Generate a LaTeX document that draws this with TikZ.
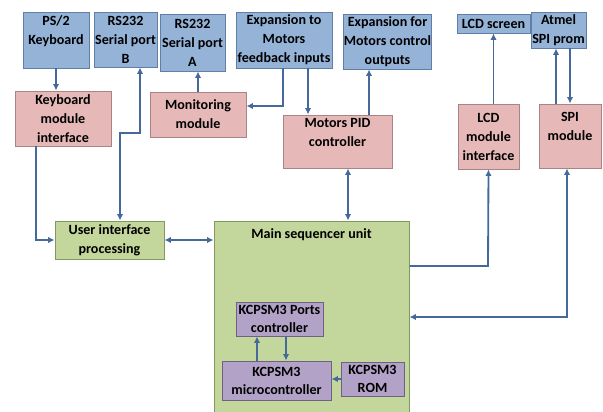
\documentclass[tikz,border=0pt]{standalone}
\usepackage{fontspec}
\setmainfont{Carlito}
\usepackage{tikz}
\usetikzlibrary{arrows.meta}
\definecolor{bluefill}{HTML}{95B3D7}
\definecolor{blueline}{HTML}{5F7FA8}
\definecolor{pinkfill}{HTML}{E6B9B8}
\definecolor{pinkline}{HTML}{A88584}
\definecolor{greenfill}{HTML}{C3D69B}
\definecolor{greenline}{HTML}{7F9A5C}
\definecolor{purplefill}{HTML}{B3A2C7}
\definecolor{purpleline}{HTML}{6E6185}
\definecolor{wirecol}{HTML}{46699C}
\tikzstyle{blk}=[rectangle,line width=0.7pt,align=center,inner sep=0pt,
                 font=\bfseries\fontsize{10}{13.5}\selectfont]
\tikzstyle{bluebox}=[blk,draw=blueline,fill=bluefill]
\tikzstyle{pinkbox}=[blk,draw=pinkline,fill=pinkfill]
\tikzstyle{greenbox}=[blk,draw=greenline,fill=greenfill]
\tikzstyle{purplebox}=[blk,draw=purpleline,fill=purplefill,
                       font=\bfseries\fontsize{10}{12.8}\selectfont]
\tikzstyle{wire}=[draw=wirecol,line width=1.3pt,
                  arrows={-Latex[length=4.5pt,width=4.5pt]}]
\tikzstyle{wire2}=[wire,
                   arrows={Latex[length=4.5pt,width=4.5pt]-Latex[length=4.5pt,width=4.5pt]}]

\begin{document}
\begin{tikzpicture}[x=0.025cm,y=-0.025cm,
    wh/.style 2 args={minimum width=#1*0.025cm,minimum height=#2*0.025cm}]
    \useasboundingbox (0,0) rectangle (603,412);
    % top row
    \node (ps2)    at (56,40)      [bluebox,wh={66}{56}]{PS/2\\Keyboard\\~};
    \node (rsb)    at (125.5,39.5) [bluebox,wh={63}{55}]{RS232\\Serial port\\B};
    \node (rsa)    at (192.5,42.5) [bluebox,wh={65}{57}]{RS232\\Serial port\\A};
    \node (expin)  at (284,40)     [bluebox,wh={96}{56}]{Expansion to\\Motors\\feedback inputs};
    \node (expout) at (387.5,41.5) [bluebox,wh={85}{55}]{Expansion for\\Motors control\\outputs};
    \node (lcd)    at (493.5,23.5) [bluebox,wh={73}{19}]{LCD screen};
    \node (prom)   at (558.5,30)   [bluebox,wh={55}{36}]{Atmel\\SPI prom};
    % modules
    \node (kbm)  at (63,118.5)    [pinkbox,wh={96}{55}]{Keyboard\\module\\interface};
    \node (mon)  at (198,114.5)   [pinkbox,wh={96}{45}]{Monitoring\\module};
    \node (pid)  at (337.5,141.5) [pinkbox,wh={109}{53}]{Motors PID\\controller\\~};
    \node (lcdm) at (488.5,136.5) [pinkbox,wh={61}{65}]{LCD\\module\\interface};
    \node (spi)  at (570,136)     [pinkbox,wh={62}{64}]{SPI\\module\\~};
    % processing
    \node (ui)   at (109.5,240)   [greenbox,wh={109}{38}]{User interface\\processing};
    \node (main) at (311.5,317.5) [greenbox,wh={195}{193},
        label={[font=\bfseries\fontsize{10}{12}\selectfont,anchor=north,yshift=-2pt]north:Main sequencer unit}]{};
    \node (ports) at (279.5,319)  [purplebox,wh={87}{34}]{KCPSM3 Ports\\controller};
    \node (micro) at (276.5,380.5)[purplebox,wh={109}{39}]{KCPSM3\\microcontroller};
    \node (rom)   at (372.5,379)  [purplebox,wh={63}{34}]{KCPSM3\\ROM};
    % bends
    \coordinate (k1) at (36,240);
    \coordinate (b1) at (120,133);
    \coordinate (b2) at (140,133);
    \coordinate (f1) at (283,106);
    \coordinate (f2) at (308,90);
    \coordinate (f3) at (369,90);
    \coordinate (m1) at (348,190);
    \coordinate (c1) at (488,266);
    \coordinate (s1) at (567,317);
    \coordinate (s2) at (556,80);
    \coordinate (s3) at (570,80);
    \coordinate (p1) at (257,350);
    \coordinate (p2) at (286,350);
    % connectors
    \draw[wire] (ps2) -- (ps2 |- kbm.north);
    \draw[wire] (kbm.south -| k1) -- (k1) -- (ui.west);
    \draw[wire2] (ui.north -| b1) -- (b1) -- (b2) -- (b2 |- rsb.south);
    \draw[wire] (mon.north) -- (mon.north |- rsa.south);
    \draw[wire] (expin.south -| f1) -- (f1) -- (f1 -| mon.east);
    \draw[wire] (expin.south -| f2) -- (f2 |- pid.north);
    \draw[wire] (pid.north -| f3) -- (f3 |- expout.south);
    \draw[wire2] (pid.south -| m1) -- (m1 |- main.north);
    \draw[wire2] (ui.east) -- (ui.east -| main.west);
    \draw[wire] (c1 -| main.east) -- (c1) -- (lcdm.south);
    \draw[wire] (lcdm.north -| lcd) -- (lcd.south);
    \draw[wire2] (s1 -| main.east) -- (s1) -- (s1 |- spi.south);
    \draw[wire] (spi.north -| s2) -- (s2 |- prom.south);
    \draw[wire] (prom.south -| s3) -- (s3 |- spi.north);
    \draw[wire] (micro.north -| p1) -- (p1 |- ports.south);
    \draw[wire] (ports.south -| p2) -- (p2 |- micro.north);
    \draw[wire] (rom.west) -- (rom.west -| micro.east);
\end{tikzpicture}
\end{document}
